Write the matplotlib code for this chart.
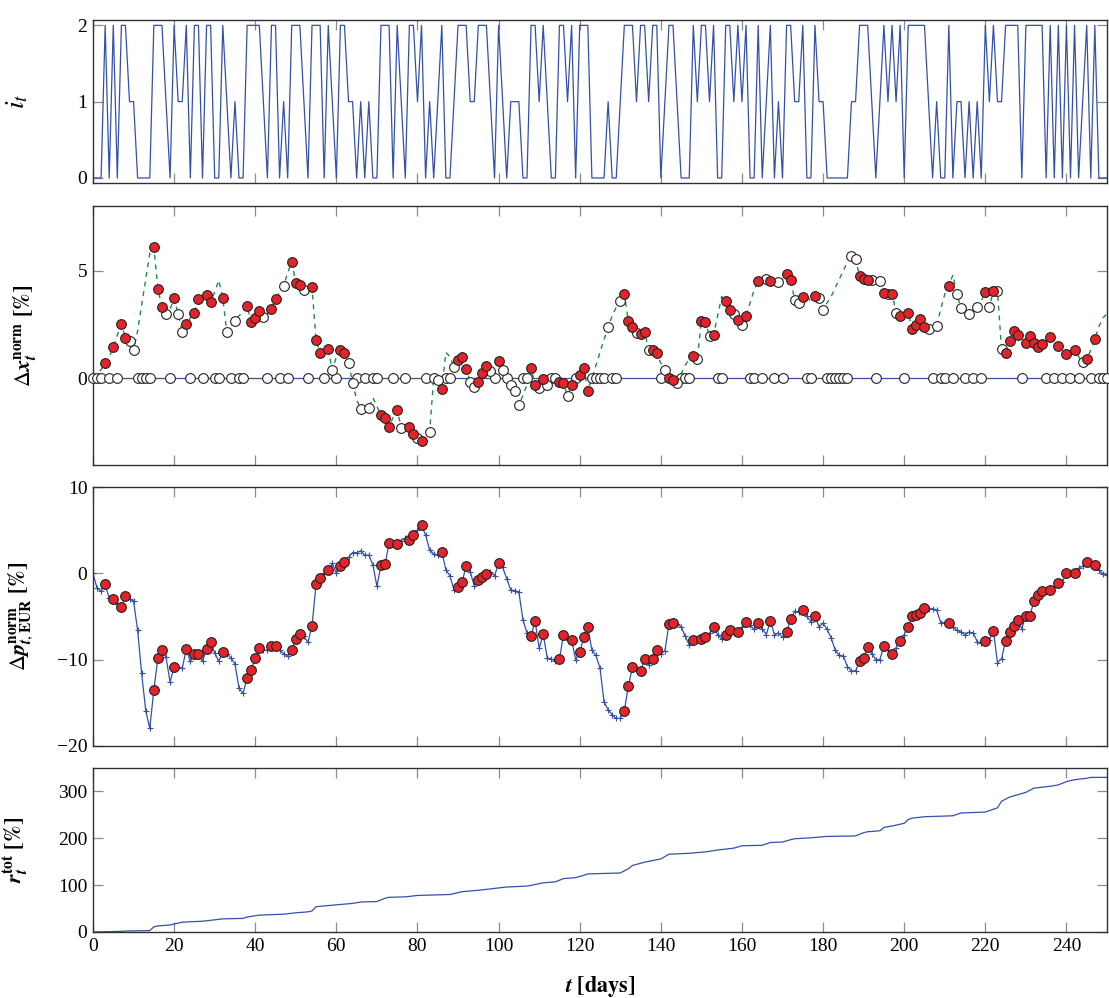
import numpy as np
import matplotlib
matplotlib.use("Agg")
import matplotlib.pyplot as plt

plt.rcParams['font.family'] = ['Liberation Serif', 'DejaVu Serif']
plt.rcParams['mathtext.fontset'] = 'stix'

# ---------------- data ----------------
days = np.arange(0, 251)

# trading indicator i_t (0, 1, 2) per day
i_t = [0,0,0,2,0,2,0,2,2,1, 1,0,0,0,0,2,2,2,1,0,
       2,1,1,2,0,2,2,0,2,2, 0,0,2,1,0,1,0,0,2,2,
       2,2,1,0,2,2,0,1,0,2, 2,2,1,0,2,2,2,0,2,1,
       0,2,2,1,1,0,1,0,1,0, 0,2,2,2,0,2,1,0,2,2,
       1,2,0,1,0,1,2,0,0,1, 2,2,2,1,1,2,2,2,1,0,
       2,1,0,1,1,1,0,0,2,2, 1,2,1,0,0,2,2,1,2,0,
       2,2,2,0,0,0,0,1,0,0, 1,2,2,2,1,2,2,1,2,2,
       0,1,2,2,1,0,0,0,2,1, 2,2,1,2,0,0,2,2,1,2,
       1,2,0,0,2,0,1,2,0,1, 0,2,2,1,1,2,0,0,2,1,
       1,0,0,0,0,0,0,1,1,2, 2,2,1,0,1,2,1,2,1,2,
       0,2,2,2,2,2,1,0,1,0, 0,2,0,1,1,0,1,0,1,0,
       2,1,2,1,1,2,2,2,2,0, 2,2,2,2,2,0,2,0,2,0,
       2,0,2,0,1,2,0,2,0,0, 0]

# normalised position change Delta x_t^norm [%] per day
dx_norm = [0.0,0.2,0.4,0.70,1.0,1.43,2.0,2.50,1.88,1.71,
           1.30,2.2,3.4,4.6,5.8,6.09,4.14,3.30,2.98,3.2,
           3.71,2.98,2.17,2.51,2.8,3.05,3.69,3.9,3.88,3.53,
           4.0,4.55,3.71,2.14,2.4,2.67,2.9,3.1,3.36,2.60,
           2.79,3.13,2.84,3.0,3.22,3.66,4.0,4.29,4.9,5.41,
           4.42,4.33,4.11,4.2,4.22,1.77,1.19,1.3,1.36,0.37,
           1.0,1.29,1.16,0.70,-0.2,-1.0,-1.44,-1.4,-1.40,-0.9,
           -1.3,-1.71,-1.86,-2.25,-1.8,-1.49,-2.29,-2.3,-2.25,-2.60,
           -2.79,-2.90,-2.8,-2.48,0.0,-0.1,-0.50,1.2,1.0,0.54,
           0.85,0.98,0.43,-0.16,-0.43,-0.19,0.23,0.57,0.35,0.2,
           0.78,0.36,0.0,-0.31,-0.57,-1.24,-0.8,-0.3,0.47,-0.31,
           -0.47,-0.03,-0.31,-0.2,-0.1,-0.16,-0.23,-0.82,-0.31,0.0,
           0.16,0.47,-0.57,0.0,0.6,1.2,1.8,2.36,2.9,3.3,
           3.6,3.92,2.64,2.37,2.1,2.05,2.17,1.32,1.29,1.16,
           0.7,0.36,0.0,-0.1,-0.2,0.2,0.6,0.9,1.05,0.9,
           2.68,2.59,1.94,2.03,2.9,3.8,3.61,3.18,3.0,2.71,
           2.48,2.9,3.5,4.1,4.53,4.6,4.6,4.53,4.5,4.45,
           4.6,4.85,4.57,3.64,3.49,3.77,3.9,3.5,3.83,3.72,
           3.18,3.5,3.8,4.2,4.6,5.0,5.4,5.69,5.53,4.76,
           4.62,4.57,4.54,4.5,4.5,3.95,3.93,3.92,3.05,2.91,
           3.0,3.02,2.28,2.48,2.76,2.37,2.3,2.35,2.43,3.2,
           3.9,4.29,4.8,3.91,3.26,3.1,2.99,3.2,3.33,3.6,
           4.0,3.33,4.06,4.03,1.35,1.16,1.71,2.2,2.02,1.8,
           1.63,1.94,1.63,1.47,1.58,1.8,1.91,1.7,1.52,1.3,
           1.13,1.2,1.32,1.0,0.74,0.9,1.3,1.81,2.4,2.8,
           3.0]

# normalised EUR price change Delta p_{t,EUR}^norm [%] per day
dp_eur = [0.0,-1.74,-2.05,-1.27,-2.9,-2.97,-3.5,-3.94,-2.63,-3.0,
          -3.2,-6.6,-11.6,-15.9,-17.95,-13.5,-9.8,-8.9,-9.7,-12.6,
          -10.8,-10.9,-11.0,-8.8,-10.2,-9.3,-9.3,-10.2,-8.76,-8.0,
          -9.2,-10.2,-9.1,-9.3,-9.8,-10.5,-13.3,-13.9,-12.1,-11.2,
          -9.8,-8.7,-8.9,-8.9,-8.4,-8.4,-8.9,-9.3,-9.6,-8.9,
          -7.6,-7.0,-7.3,-8.0,-6.06,-1.27,-0.58,0.0,0.35,1.16,
          0.0,0.89,1.35,1.85,2.4,2.4,2.6,2.1,2.1,1.0,
          -1.5,0.93,1.08,3.47,3.5,3.4,3.8,4.05,3.86,4.44,
          5.0,5.6,4.44,2.7,2.24,2.1,2.5,0.39,-0.27,-1.93,
          -1.62,-1.04,0.89,0.2,-1.47,-0.77,-0.46,-0.12,0.2,-0.27,
          1.16,0.7,-0.6,-1.93,-2.0,-2.16,-5.4,-6.9,-7.3,-5.5,
          -8.7,-7.07,-9.8,-9.9,-10.2,-9.9,-7.14,-7.7,-7.7,-10.0,
          -9.15,-7.4,-6.25,-8.9,-9.5,-11.0,-14.9,-15.8,-16.4,-16.8,
          -16.8,-15.9,-13.05,-10.85,-11.2,-11.3,-9.96,-10.6,-9.9,-8.9,
          -9.3,-9.0,-5.87,-5.7,-5.9,-6.2,-7.3,-8.3,-7.7,-7.7,
          -7.6,-7.4,-6.9,-6.2,-7.1,-7.6,-7.1,-6.6,-6.9,-6.75,
          -6.2,-5.6,-6.0,-6.5,-5.7,-6.4,-7.1,-5.5,-7.1,-6.9,
          -7.4,-6.8,-5.3,-4.4,-4.5,-4.25,-5.0,-5.6,-4.9,-6.2,
          -5.8,-6.5,-7.5,-8.9,-9.5,-9.6,-10.8,-11.3,-11.3,-10.2,
          -9.85,-8.5,-9.3,-10.0,-10.0,-8.4,-8.9,-9.3,-8.6,-7.8,
          -7.1,-6.2,-4.9,-4.8,-4.6,-4.0,-4.1,-4.1,-4.25,-5.7,
          -5.7,-5.8,-6.2,-6.6,-6.8,-7.1,-6.8,-6.9,-7.9,-8.1,
          -7.8,-7.7,-6.7,-10.35,-9.9,-7.8,-6.75,-6.1,-5.44,-6.4,
          -4.9,-4.9,-3.2,-2.5,-2.05,-2.05,-1.93,-1.6,-1.1,-1.0,
          0.0,0.0,0.0,0.58,0.85,1.35,0.97,0.97,0.39,-0.08,
          -0.2]

# cumulative total return r_t^tot [%] (day, value)
rtot_days = [0,7,8,14,15,16,19,20,22,27,29,32,37,38,41,47,50,53,54,55,
             60,64,66,70,72,73,77,80,88,90,91,95,99,102,107,110,111,114,116,119,
             121,122,130,132,133,136,140,142,147,151,154,158,160,165,167,170,172,173,177,181,
             188,190,191,194,195,198,200,201,202,205,212,214,220,222,223,224,226,228,230,232,
             236,238,240,242,245,246,250]
rtot_vals = [0,1.4,2,3,11,13,15,17,21,23,25,28,29,32,36,38,41,43,45,54,
             58,61,64,65,72,74,75,78,80,84,86,89,93,96,98,103,105,107,114,116,
             121,124,126,135,142,149,156,166,168,171,175,179,184,185,191,192,197,199,201,204,
             205,212,214,216,223,228,232,240,243,246,248,254,256,262,265,279,288,293,298,307,
             311,314,321,325,328,330,330]

xticks = [0, 20, 40, 60, 80, 100, 120, 140, 160, 180, 200, 220, 240]

# ---------------- styling ----------------
BLUE = '#3450a8'
RED = '#e4222a'
GREEN = '#23894a'
TICKC = '#8c8c8c'
SPINEC = '#303030'
FS = 14

W, H = 1109, 998
fig = plt.figure(figsize=(W / 100, H / 100), dpi=100)

def add_ax(top, bottom):
    return fig.add_axes([93 / W, 1 - bottom / H, 1014 / W, (bottom - top) / H])

ax1 = add_ax(20, 183)
ax2 = add_ax(206, 465)
ax3 = add_ax(487, 746)
ax4 = add_ax(768, 932)

for ax in (ax1, ax2, ax3, ax4):
    ax.set_xlim(0, 250)
    ax.set_xticks(xticks)
    ax.tick_params(direction='in', length=7, width=0.9, color=TICKC,
                   top=True, right=True, labelsize=FS, pad=4)
    for s in ax.spines.values():
        s.set_color(SPINEC)
        s.set_linewidth(1.0)
    if ax is not ax4:
        ax.tick_params(labelbottom=False)

i_arr = np.array(i_t)
dx_arr = np.array(dx_norm)
dp_arr = np.array(dp_eur)

# panel 1
ax1.plot(days, i_arr, color=BLUE, lw=0.9)
ax1.set_ylim(-0.066, 2.07)
ax1.set_yticks([0, 1, 2])
ax1.set_ylabel(r'$\boldsymbol{i_t}$', fontsize=20)
ax1.yaxis.set_label_coords(-0.062, 0.5)

# panel 2
m0 = i_arr == 0
m1 = i_arr == 1
m2 = i_arr == 2
ax2.plot(days, np.zeros_like(dx_arr), color=BLUE, lw=0.9, zorder=2)
ax2.plot(days, dx_arr, color=GREEN, lw=1.0, dashes=(3.5, 3.5), zorder=2)
ax2.plot(days[m0], np.zeros(m0.sum()), 'o', ms=7, mfc='white', mec='#222222',
         mew=0.8, zorder=3, clip_on=False)
ax2.plot(days[m1], dx_arr[m1], 'o', ms=7, mfc='white', mec='#222222',
         mew=0.8, zorder=3, clip_on=False)
ax2.plot(days[m2], dx_arr[m2], 'o', ms=7, mfc=RED, mec='#222222',
         mew=0.8, zorder=4, clip_on=False)
ax2.set_ylim(-4.03, 8.0)
ax2.set_yticks([0, 5])
ax2.set_ylabel(r'$\Delta\boldsymbol{x}_{\boldsymbol{t}}^{\mathbf{norm}}\ \mathbf{[\%]}$', fontsize=16)
ax2.yaxis.set_label_coords(-0.054, 0.5)

# panel 3
ax3.plot(days, dp_arr, color=BLUE, lw=0.9, marker='+', ms=4.5, mew=0.8, zorder=2)
ax3.plot(days[m2], dp_arr[m2], 'o', ms=7, mfc=RED, mec='#222222', mew=0.8, zorder=4)
ax3.set_ylim(-20, 10)
ax3.set_yticks([-20, -10, 0, 10])
ax3.set_yticklabels(['\u221220', '\u221210', '0', '10'])
ax3.set_ylabel(r'$\Delta\boldsymbol{p}_{\boldsymbol{t},\mathbf{EUR}}^{\mathbf{norm}}\ \mathbf{[\%]}$', fontsize=16)
ax3.yaxis.set_label_coords(-0.057, 0.5)

# panel 4
ax4.plot(rtot_days, rtot_vals, color=BLUE, lw=0.9)
ax4.set_ylim(0, 350)
ax4.set_yticks([0, 100, 200, 300])
ax4.set_ylabel(r'$\boldsymbol{r}_{\boldsymbol{t}}^{\mathbf{tot}}\ \mathbf{[\%]}$', fontsize=16)
ax4.yaxis.set_label_coords(-0.062, 0.5)
ax4.set_xlabel(r'$\boldsymbol{t}\ \mathbf{[days]}$', fontsize=16, labelpad=14)

fig.savefig('out.png', dpi=100)
